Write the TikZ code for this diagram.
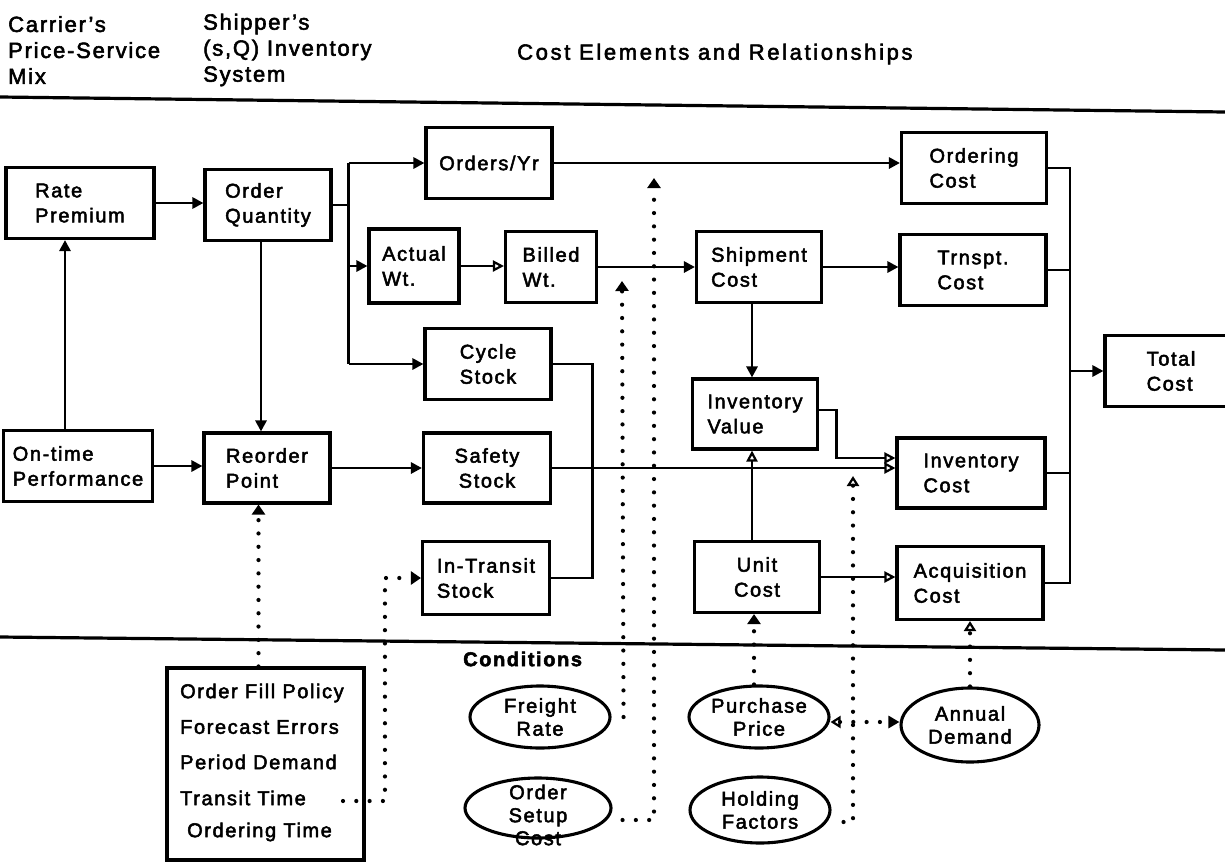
\documentclass[tikz,border=0pt]{standalone}
\usepackage{fontspec}
\setmainfont{Liberation Sans}[LetterSpace=8, FakeBold=2.5]
\usetikzlibrary{arrows.meta,shapes.geometric}

\tikzset{
  box/.style={draw, line width=3.1pt, minimum height=71pt, inner sep=2pt, align=left,
    font=\fontsize{20}{25}\selectfont},
  header/.style={anchor=west, align=left, inner sep=0pt, font=\fontsize{22}{26}\selectfont},
  link/.style={line width=2.9pt},
  flow/.style={link, -{Triangle[length=11pt,width=11pt]}},
  flowopen/.style={link, -{Triangle[open,length=11pt,width=11pt,line width=2.2pt]}},
  cond/.style={ellipse, draw, line width=3.1pt, inner sep=0pt, minimum width=140pt, minimum height=62pt},
  condlab/.style={align=center, font=\fontsize{20}{23}\selectfont},
  listitem/.style={anchor=west, inner sep=0pt, font=\fontsize{20}{24}\selectfont},
  dots/.style={line width=4.2pt, line cap=round, dash pattern=on 0pt off 13.3pt},
  dotflow/.style={dots, -{Triangle[length=10pt,width=13pt]}},
  dotflowopen/.style={dots, -{Triangle[open,length=10pt,width=12pt,line width=2.2pt]}},
  dotboth/.style={dots, {Triangle[open,length=10pt,width=12pt,line width=2.2pt]}-{Triangle[length=11pt,width=12pt]}}
}

\begin{document}
\begin{tikzpicture}[x=1pt,y=1pt,yscale=-1]

\fill[white] (0,0) rectangle (1225,862);
\useasboundingbox (0,0) rectangle (1225,862);

%Text: column heads
\node[header] (carrier) at (8,50) {Carrier's\\Price-Service\\Mix};
\node[header] (shipper) at (203,50) {Shipper's\\(s,Q) Inventory\\System};
\node[header, font=\addfontfeature{LetterSpace=12}\fontsize{22}{26}\selectfont] (costhead) at (517,54) {Cost Elements and Relationships};

%Straight Lines: dividers
\draw[line width=3.2pt] (0,97) -- (1225,112);
\draw[line width=3.2pt] (0,637) -- (1225,650);

%Shape: Boxes
\node[box, minimum width=148pt] (rate) at (80,203) {Rate\\Premium};
\node[box, minimum width=126pt] (ordq) at (268,205) {Order\\Quantity};
\node[box, minimum width=126pt] (ordyr) at (489,163) {Orders/Yr};
\node[box, minimum width=90pt, minimum height=74pt] (actwt) at (414,266) {Actual\\Wt.};
\node[box, minimum width=91pt] (billwt) at (551,267) {Billed\\Wt.};
\node[box, minimum width=125pt] (shipc) at (759,267) {Shipment\\Cost};
\node[box, minimum width=145pt] (ordc) at (974,168) {Ordering\\Cost};
\node[box, minimum width=146pt] (trnc) at (973,270) {Trnspt.\\Cost};
\node[box, minimum width=126pt, align=center] (cycst) at (488,364) {Cycle\\Stock};
\node[box, minimum width=132pt] (totc) at (1171,371) {Total\\Cost};
\node[box, minimum width=125pt, minimum height=70pt] (invval) at (755,414) {Inventory\\Value};
\node[box, minimum width=149pt] (ontime) at (78,466) {On-time\\Performance};
\node[box, minimum width=126pt, minimum height=70pt] (reord) at (267,468) {Reorder\\Point};
\node[box, minimum width=127pt, minimum height=70pt, align=center] (safst) at (487,468) {Safety\\Stock};
\node[box, minimum width=148pt, minimum height=70pt] (invc) at (971,473) {Inventory\\Cost};
\node[box, minimum width=127pt, minimum height=73pt] (intr) at (486,578) {In-Transit\\Stock};
\node[box, minimum width=125pt, align=center] (unitc) at (757,577) {Unit\\Cost};
\node[box, minimum width=146pt, minimum height=73pt] (acqc) at (970,583) {Acquisition\\Cost};

%Text: conditions
\node[anchor=west, inner sep=0pt, font=\bfseries\fontsize{20}{24}\selectfont] (condhead) at (463,659) {Conditions};

%Shape: list of conditions
\node[draw, line width=3.1pt, minimum width=197pt, minimum height=192pt] (listbox) at (265.5,764) {};
\node[listitem] (fillpol) at (180,693) {Order Fill Policy};
\node[listitem] (fcast) at (180,727) {Forecast Errors};
\node[listitem] (perdem) at (180,762) {Period Demand};
\node[listitem] (trtime) at (180,798) {Transit Time};
\node[listitem] (ordtime) at (187,832) {Ordering Time};

%Shape: Ellipses
\node[cond, label={[condlab]center:Freight\\Rate}] (freight) at (540,717) {};
\node[cond, minimum width=146pt, minimum height=60pt, label={[condlab, yshift=-7pt]center:Order\\Setup\\Cost}] (setup) at (538,808) {};
\node[cond, label={[condlab]center:Purchase\\Price}] (purch) at (759,717) {};
\node[cond, minimum height=66pt, label={[condlab]center:Holding\\Factors}] (hold) at (760,810) {};
\node[cond, minimum width=138pt, minimum height=74pt, label={[condlab]center:Annual\\Demand}] (annual) at (970,725) {};

%Straight Lines: carrier and inventory system
\draw[flow] (rate.east) -- (rate.east -| ordq.west);
\draw[flow] ([xshift=-13pt]ontime.north) -- ([xshift=-13pt]ontime.north |- rate.south);
\draw[flow] (ontime.east) -- (ontime.east -| reord.west);
\draw[flow] ([xshift=-7pt]ordq.south) -- ([xshift=-7pt]ordq.south |- reord.north);
\draw[link] (ordq.east) -- ++(16,0) coordinate (split);
\draw[link] (split |- ordyr.west) -- (split |- cycst.west);
\draw[flow] (split |- ordyr.west) -- (ordyr.west);
\draw[flow] (split |- actwt.west) -- (actwt.west);
\draw[flow] (split |- cycst.west) -- (cycst.west);
\draw[flow] (reord.east) -- (reord.east -| safst.west);

%Straight Lines: cost elements
\draw[flowopen] (actwt.east) -- (actwt.east -| billwt.west);
\draw[flow] (billwt.east) -- (billwt.east -| shipc.west);
\draw[flow] (ordyr.east) -- (ordyr.east -| ordc.west);
\draw[flow] (shipc.east) -- (shipc.east -| trnc.west);
\draw[flow] ([xshift=-7pt]shipc.south) -- ([xshift=-7pt]shipc.south |- invval.north);
\draw[link] (cycst.east) -- ++(40,0) |- (intr.east);
\draw[flowopen] (safst.east) -- (safst.east -| invc.west);
\draw[flowopen] ([yshift=-4pt]invval.east) -- ++(17,0) |- ([yshift=-15pt]invc.west);
\draw[flowopen] ([xshift=-5pt]unitc.north) -- ([xshift=-5pt]unitc.north |- invval.south);
\draw[flowopen] (unitc.east) -- (unitc.east -| acqc.west);

%Straight Lines: total
\coordinate (sumtop) at (1070,168);
\draw[link] (ordc.east) -- (sumtop) -- (sumtop |- acqc.east) -- (acqc.east);
\draw[link] (trnc.east) -- (trnc.east -| sumtop);
\draw[link] (invc.east) -- (invc.east -| sumtop);
\draw[flow] (sumtop |- totc.west) -- (totc.west);

%Dotted Lines: conditions
\draw[dotflow] ([xshift=-7pt]listbox.north) -- ([xshift=-7pt]listbox.north |- reord.south);
\coordinate (trdot) at (343,801);
\draw[dotflow] (trdot) -| ([xshift=-36pt]intr.west) -- (intr.west);
\coordinate (frtip) at (622,281);
\draw[dotflow] ([xshift=12pt]freight.east) -- (frtip);
\coordinate (sttip) at (654,178);
\draw[dotflow] ([xshift=10pt,yshift=12pt]setup.east) -| (sttip);
\draw[dotflow] ([xshift=-5pt]purch.north) -- ([xshift=-5pt]purch.north |- unitc.south);
\coordinate (hdtip) at (853,476);
\draw[dotflowopen] ([xshift=12pt,yshift=12pt]hold.east) -| (hdtip);
\draw[dotboth] ([yshift=5pt]purch.east) -- ([yshift=5pt]purch.east -| annual.west);
\draw[dotflowopen] (annual.north) -- (annual.north |- acqc.south);

\end{tikzpicture}
\end{document}
